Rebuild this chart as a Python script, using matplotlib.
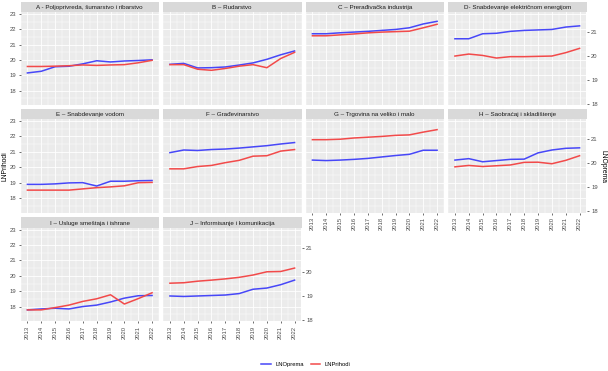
import numpy as np
import matplotlib
matplotlib.use("Agg")
import matplotlib.pyplot as plt
from matplotlib.lines import Line2D

plt.rcParams['font.family'] = ['Liberation Sans', 'DejaVu Sans']

godine = list(range(2013, 2023))

naslovi = [
    "A - Poljoprivreda, šumarstvo i ribarstvo",
    "B – Rudarstvo",
    "C – Prerađivačka industrija",
    "D- Snabdevanje električnom energijom",
    "E – Snabdevanje vodom",
    "F – Građevinarstvo",
    "G – Trgovina na veliko i malo",
    "H – Saobraćaj i skladištenje",
    "I – Usluge smeštaja i ishrane",
    "J – Informisanje i komunikacija",
]

# LNOprema se crta po desnoj osi, LNPrihodi po levoj
opr_a = [19.30, 19.37, 19.56, 19.58, 19.68, 19.81, 19.76, 19.80, 19.82, 19.85]
pri_a = [19.58, 19.58, 19.60, 19.63, 19.68, 19.65, 19.68, 19.70, 19.82, 19.98]
opr_b = [19.66, 19.70, 19.51, 19.52, 19.55, 19.63, 19.72, 19.87, 20.06, 20.22]
pri_b = [19.70, 19.70, 19.40, 19.33, 19.45, 19.60, 19.70, 19.50, 20.10, 20.50]
opr_c = [20.94, 20.94, 20.98, 21.01, 21.04, 21.08, 21.12, 21.19, 21.35, 21.46]
pri_c = [21.58, 21.58, 21.64, 21.70, 21.77, 21.82, 21.85, 21.88, 22.10, 22.33]
opr_d = [20.73, 20.73, 20.94, 20.96, 21.04, 21.08, 21.10, 21.12, 21.22, 21.27]
pri_d = [20.26, 20.39, 20.30, 20.13, 20.22, 20.22, 20.24, 20.26, 20.48, 20.76]
opr_e = [19.13, 19.13, 19.15, 19.19, 19.20, 19.06, 19.26, 19.26, 19.28, 19.29]
pri_e = [18.52, 18.52, 18.52, 18.52, 18.60, 18.68, 18.73, 18.80, 19.00, 19.02]
opr_f = [20.45, 20.56, 20.54, 20.58, 20.60, 20.64, 20.69, 20.74, 20.81, 20.87]
pri_f = [19.90, 19.90, 20.05, 20.12, 20.30, 20.45, 20.72, 20.75, 21.05, 21.15]
opr_g = [20.14, 20.12, 20.14, 20.17, 20.21, 20.27, 20.33, 20.38, 20.55, 20.55]
pri_g = [21.79, 21.79, 21.82, 21.90, 21.95, 22.00, 22.07, 22.10, 22.28, 22.44]
opr_h = [20.14, 20.20, 20.07, 20.12, 20.17, 20.18, 20.44, 20.56, 20.63, 20.65]
pri_h = [20.03, 20.12, 20.05, 20.10, 20.15, 20.32, 20.33, 20.23, 20.45, 20.75]
opr_i = [18.42, 18.46, 18.49, 18.46, 18.56, 18.62, 18.75, 18.91, 19.01, 19.02]
pri_i = [17.79, 17.79, 17.94, 18.10, 18.34, 18.51, 18.77, 18.17, 18.52, 18.90]
opr_j = [19.00, 18.98, 19.00, 19.02, 19.04, 19.10, 19.28, 19.33, 19.47, 19.66]
pri_j = [19.52, 19.55, 19.65, 19.72, 19.80, 19.90, 20.05, 20.26, 20.28, 20.50]

oprema = [opr_a, opr_b, opr_c, opr_d, opr_e, opr_f, opr_g, opr_h, opr_i, opr_j]
prihodi = [pri_a, pri_b, pri_c, pri_d, pri_e, pri_f, pri_g, pri_h, pri_i, pri_j]

plava = '#4747F8'
crvena = '#F24A4A'


# desna osa -> leva osa i nazad
def na_levu(s):
    return 17.135 + 1.557 * (np.asarray(s) - 18)


def na_desnu(p):
    return 18 + (np.asarray(p) - 17.135) / 1.557


W, H = 608, 371
fig = plt.figure(figsize=(W / 100, H / 100), dpi=100)

kolone = [(20.5, 159), (163, 301.5), (305.5, 444), (448, 586.5)]
redovi = [(12, 105), (119, 212.5), (227.5, 321)]
visina_trake = 10

siva_txt = '#4D4D4D'

for i, naslov in enumerate(naslovi):
    r, c = divmod(i, 4)
    x0, x1 = kolone[c]
    y0, y1 = redovi[r]
    ax = fig.add_axes([x0 / W, 1 - y1 / H, (x1 - x0) / W, (y1 - y0) / H])
    ax.set_facecolor('#EBEBEB')
    for s in ax.spines.values():
        s.set_visible(False)
    ax.set_xlim(2012.55, 2022.45)
    ax.set_ylim(17.07, 23.13)
    ax.set_xticks(godine)
    ax.set_xticks(np.arange(2012.5, 2023, 1), minor=True)
    ax.set_yticks(range(18, 24))
    ax.set_yticks(np.arange(17.5, 23.1, 1), minor=True)
    ax.grid(which='major', color='white', lw=0.6)
    ax.grid(which='minor', color='white', lw=0.3)
    ax.set_axisbelow(True)
    ax.tick_params(which='minor', length=0)
    ax.tick_params(which='major', length=1.5, width=0.5, color='#333333',
                   labelsize=4.2, labelcolor=siva_txt, pad=1.8)

    ax.plot(godine, na_levu(oprema[i]), color=plava, lw=1.1)
    ax.plot(godine, prihodi[i], color=crvena, lw=1.1)

    donji = (r == 2) or (r == 1 and c >= 2)
    if donji:
        ax.set_xticklabels([str(g) for g in godine], rotation=90)
    else:
        ax.tick_params(axis='x', length=0, labelbottom=False)
    if c != 0:
        ax.tick_params(axis='y', length=0, labelleft=False)

    if c == 3 or i == len(naslovi) - 1:
        sec = ax.secondary_yaxis('right', functions=(na_desnu, na_levu))
        sec.set_yticks([18, 19, 20, 21])
        sec.spines['right'].set_visible(False)
        sec.tick_params(length=1.5, width=0.5, color='#333333',
                        labelsize=4.2, labelcolor=siva_txt, pad=1.8)

    # traka sa naslovom
    st = fig.add_axes([x0 / W, 1 - y0 / H, (x1 - x0) / W, visina_trake / H])
    st.set_facecolor('#D9D9D9')
    st.set_xticks([])
    st.set_yticks([])
    for s in st.spines.values():
        s.set_visible(False)
    st.text(0.5, 0.45, naslov, ha='center', va='center', fontsize=4.5,
            color='#1A1A1A', transform=st.transAxes)

fig.text(5 / W, 1 - 166 / H, 'LNPrihodi', rotation=90, ha='center',
         va='center', fontsize=4.9)
fig.text(603 / W, 1 - 166 / H, 'LNOprema', rotation=-90, ha='center',
         va='center', fontsize=4.9)

ruke = [Line2D([], [], color=plava, lw=1.1), Line2D([], [], color=crvena, lw=1.1)]
fig.legend(ruke, ['LNOprema', 'LNPrihodi'], loc='center',
           bbox_to_anchor=(306 / W, 1 - 364 / H), ncol=2, frameon=False,
           fontsize=4.2, handlelength=1.6, columnspacing=1.2, handletextpad=0.8)

fig.savefig('out.png', dpi=100)
